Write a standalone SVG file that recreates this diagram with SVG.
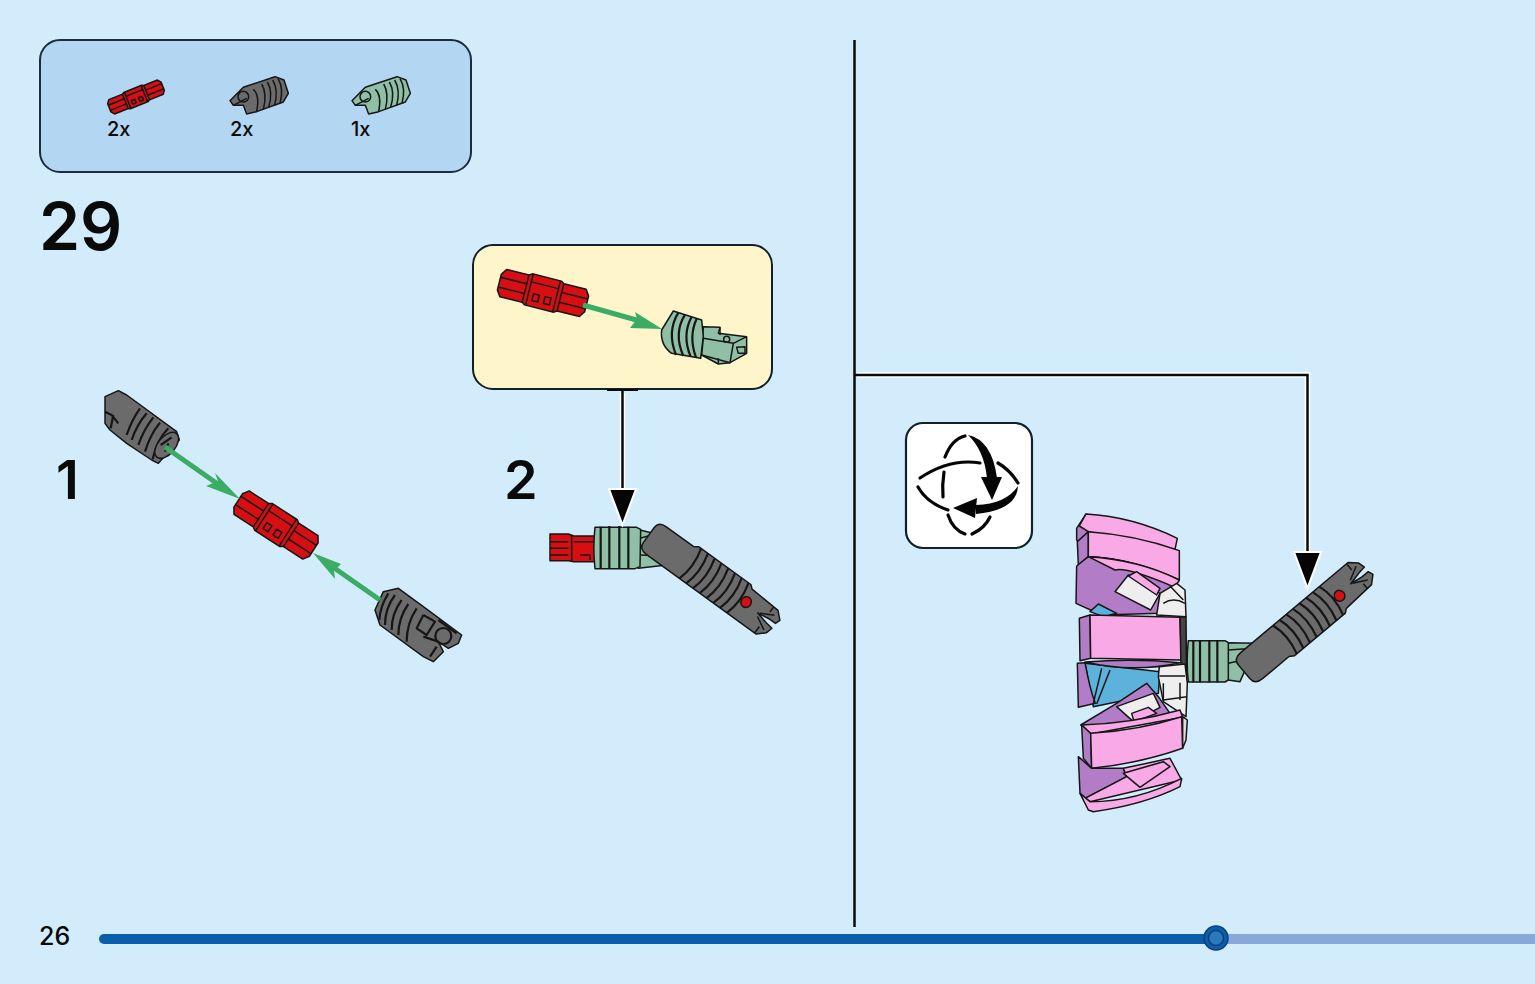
<svg xmlns="http://www.w3.org/2000/svg" width="1535" height="984" viewBox="0 0 1535 984">
<style>
.t{font-family:"Inter","Liberation Sans",sans-serif;fill:#0a0a0a;font-weight:500}
.big{font-weight:600}
.o,.o *{stroke:#161616;stroke-linejoin:round;vector-effect:non-scaling-stroke}
.o{stroke-width:1.5}
.o .th{stroke-width:2.2}
.n{fill:none}
.ln{fill:none;stroke:#0a0a0a;stroke-width:2.5}
.hl{fill:none;stroke:#fff;stroke-width:5.5}
.ga{stroke:#3aac64;stroke-width:5;fill:none}
.gh{fill:#3aac64}
.p{fill:#f9aae6}.pu{fill:#b27dc6}.w{fill:#eeeeee}.b{fill:#5cb2da}
.gr{fill:#6b6b6b}.gn{fill:#8fc0a6}.rd{fill:#d80f12}
</style>
<defs>
<g id="axle" class="o">
<path d="M-45,-8 L-41,-14 L-18,-14 L-15,-16 L15,-16 L18,-14 L41,-14 L45,-8 L45,8 L41,14 L18,14 L15,16 L-15,16 L-18,14 L-41,14 L-45,8 Z" fill="#d80f12"/>
<path class="n" d="M-45,-5 H-18 M-45,5 H-18 M18,-5 H45 M18,5 H45 M-15,-8 H15 M-18,-14 V14 M18,-14 V14 M-14,-16 V16 M14,-16 V16"/>
<rect class="n" x="-9" y="3" width="6" height="7"/><rect class="n" x="3" y="3" width="6" height="7"/>
</g>
<g id="part-conn" class="o" transform="translate(30 30) scale(.33333)">
<path d="M600,212 L640,172 L735,140 L762,150 L775,190 L760,216 L680,245 L650,252 L640,226 L610,226 Z"/>
<path class="n" d="M695,162 Q712,190 700,238 M712,156 Q730,185 716,232 M728,150 Q746,180 734,226 M744,146 Q762,175 750,220"/>
<circle class="n" cx="640" cy="200" r="16"/>
<path class="n" d="M670,178 Q690,195 680,245 M610,226 L650,205"/>
</g>
<g id="long" class="o" fill="#6b6b6b">
<path d="M-84,-9 Q-84,-17 -74,-17 L-38,-17 L-33,-20 L36,-20 L40,-17 L76,-15 L84,-8 L82,-3 L74,-3 L60,-1 L74,2 L82,3 L80,10 L72,17 L-74,17 Q-84,17 -84,9 Z"/>
<path class="n th" d="M-30,-20 Q-24,0 -30,17 M-21,-20 Q-15,0 -21,17 M-12,-20 Q-6,0 -12,17 M-3,-20 Q3,0 -3,17 M6,-20 Q12,0 6,17 M15,-20 Q21,0 15,17 M24,-20 Q30,0 24,17 M33,-20 Q39,0 33,17"/>
<path class="n" d="M62,-2 L76,-9 M62,2 L76,9 M70,-15 V-9 M70,9 V17"/>
<circle cx="43" cy="-3" r="5.5" fill="#d80f12"/>
</g>
</defs>
<rect width="1535" height="984" fill="#d3ecfc"/>

<g id="parts-box">
<rect x="40" y="40" width="431" height="132" rx="20" fill="#b3d6f3" stroke="#1d2c3c" stroke-width="2"/>
<use href="#axle" transform="translate(136 97) rotate(-22) scale(.64 .55)"/>
<use href="#part-conn" fill="#6b6b6b"/>
<use href="#part-conn" fill="#8fc0a6" transform="translate(122 0)"/>
<text class="t" x="107" y="136" font-size="20">2x</text>
<text class="t" x="230" y="136" font-size="20">2x</text>
<text class="t" x="351" y="136" font-size="20">1x</text>
</g>
<text id="step-number" class="t big" x="39" y="250" font-size="66">29</text>
<text id="sub-1" class="t big" x="56" y="499" font-size="54">1</text>
<text id="sub-2" class="t big" x="504" y="499" font-size="54">2</text>
<text id="page" class="t" x="39" y="945" font-size="25">26</text>

<g id="step1-a">
<g transform="translate(90 380) scale(.33333)" class="o">
<path class="gr" d="M45,50 L85,32 L110,45 L260,155 L268,180 L205,250 L185,240 L110,190 L60,150 L45,130 Z"/>
<path class="n th" d="M150,85 Q125,120 110,165 M170,100 Q140,135 125,180 M190,112 Q160,150 145,195 M210,128 Q180,165 165,215 M235,145 Q200,180 188,238"/>
<ellipse class="gr" cx="230" cy="196" rx="26" ry="46" transform="rotate(40 230 196)"/>
<path class="n th" d="M212,195 L245,172 M225,215 L235,190 M45,95 L65,105 L85,130 M70,105 L62,145"/>
</g>
</g>
<g id="step1-b"><use href="#axle" transform="translate(276 525) rotate(33)"/></g>
<g id="step1-c">
<g transform="translate(90 380) scale(.33333)" class="o">
<path class="gr" d="M855,690 L880,635 L925,625 L1000,680 L1115,765 L1105,790 L1075,805 L1045,785 L1060,815 L1030,845 L1000,830 L870,735 Z"/>
<path class="n th" d="M895,640 Q870,680 868,720 M915,645 Q885,685 885,735 M935,660 Q905,700 905,750 M955,672 Q925,715 925,765 M980,685 Q950,730 950,785"/>
<circle class="n th" cx="1060" cy="768" r="24"/>
<path class="n th" d="M1000,705 L980,745 L1010,765 L1035,725 L1000,705 M1045,720 L1100,760 M1000,770 L1045,785 M1020,830 L1040,800"/>
</g>
</g>

<g id="callout">
<rect x="473" y="245" width="299" height="144" rx="20" fill="#fef5cb" stroke="#12202c" stroke-width="2"/>
<use href="#axle" transform="translate(543 293) rotate(14)"/>
<g transform="translate(470 240) scale(.33333)" class="o">
<path class="gn" d="M700,260 L750,262 L745,280 L830,290 L830,340 L780,368 L745,372 L695,345 Z"/>
<path class="gn" d="M610,213 L695,240 L700,290 L692,355 L605,340 Q570,315 575,270 Z"/>
<path class="n th" d="M625,218 Q590,275 618,345 M645,224 Q610,280 640,348 M665,230 Q635,285 662,350 M680,236 Q655,290 678,352"/>
<path class="gn" d="M700,295 L790,310 L780,368 L695,345 Z"/>
<path class="n" d="M790,310 L830,290 M800,322 L825,320 V340 L805,340 Z M750,262 V285 M745,355 V372"/>
<circle class="n" cx="770" cy="298" r="9"/>
</g>
</g>

<g id="step2">
<g transform="translate(470 240) scale(.33333)" class="o">
<path class="rd" d="M240,882 H295 L312,888 H375 L375,965 H312 L295,962 H240 Z"/>
<path class="n" d="M240,905 H295 M240,925 H295 M240,945 H295 M312,905 H375 M330,945 H360 V960 M305,888 V962"/>
<path class="gn" d="M500,868 L550,880 L590,950 L590,975 L505,985 Z"/>
<path class="gn" d="M375,862 L500,862 L512,868 L510,980 L495,986 H375 Q368,925 375,862 Z"/>
<path class="n th" d="M392,860 V985 M418,858 V986 M448,858 V986 M475,860 V986"/>
<path class="n" d="M510,895 L545,885 M510,918 L545,910 M510,945 L590,948"/>
</g>
<use href="#long" transform="translate(712 581) rotate(36) scale(.93 1)"/>
</g>

<g id="rotate-icon">
<rect x="906" y="423" width="126" height="125" rx="17" fill="#fff" stroke="#12202c" stroke-width="2.2"/>
<g fill="none" stroke="#050505" stroke-linecap="round" stroke-width="3.2">
<path d="M945,457 Q952,439 965,436"/>
<path d="M944,472 Q942,485 943,497"/>
<path d="M948,515 Q953,530 965,534"/>
<path d="M972,534 Q985,528 990,517"/>
<path d="M980,463 Q950,458 920,478"/>
<path d="M918,487 Q927,503 948,510"/>
<path d="M998,463 Q1010,470 1018,483"/>
</g>
<path d="M968,435 Q992,440 997,478 L987,478 Q984,450 968,435 Z" fill="#050505"/>
<path d="M1018,486 Q1017,510 976,514 L976,505 Q1006,504 1018,486 Z" fill="#050505"/>
<polygon points="981,477 1002,477 992,500" fill="#050505"/>
<polygon points="953,508 977,498 975,518" fill="#050505"/>
</g>

<g id="final-model">
<g transform="translate(1060 500) scale(.33333)" class="o">
<path class="pu" d="M50,85 L78,42 L85,95 L60,130 L50,120 Z"/>
<path class="p" d="M78,42 Q220,50 352,115 L345,148 L85,95 L58,78 Z"/>
<path class="pu" d="M52,125 L85,95 L85,170 L55,195 Z"/>
<path class="p" d="M85,95 Q230,105 358,152 L358,240 Q220,175 85,170 Z"/>
<path class="pu" d="M50,198 L85,170 Q200,175 260,210 L345,255 L300,340 L125,345 L48,310 Z"/>
<path class="p" d="M85,170 Q240,180 358,240 L345,262 Q200,200 165,210 Z"/>
<path class="b" d="M90,335 L115,312 L170,340 L130,350 Z"/>
<path class="w" d="M300,280 L350,250 L375,270 L378,350 L290,345 Z"/>
<path class="n" d="M310,310 Q340,290 375,310 M330,258 L370,300"/>
<path class="w" d="M165,275 L205,225 L300,280 L272,330 Z"/>
<path class="p" d="M205,228 L230,215 L300,265 L290,285 Z"/>
<path class="pu" d="M58,355 L90,345 L92,475 L60,482 Z"/>
<path class="p" d="M90,345 L360,352 L364,480 L92,475 Z"/>
<path d="M360,352 L378,350 L380,550 L364,550 Z" fill="#444"/>
<path class="b" d="M75,490 L300,515 L295,580 L100,620 Z"/>
<path class="pu" d="M52,490 L75,488 Q90,570 106,610 L55,622 Z"/>
<path class="n" d="M125,505 L100,610 M150,510 L110,612"/>
<path class="pu" d="M75,486 Q220,475 360,488 Q220,520 75,486 Z"/>
<path class="w" d="M298,500 L375,492 L382,550 L378,650 L310,605 L295,530 Z"/>
<path class="n" d="M298,528 H375 M310,550 V605 M360,548 V600 M310,600 L380,590"/>
<path class="pu" d="M62,675 L170,610 L260,550 L295,590 L330,640 L92,700 Z"/>
<path class="w" d="M170,620 L280,580 L300,622 L220,665 Z"/>
<path class="p" d="M215,640 L265,622 L290,640 L222,665 Z"/>
<path class="p" d="M65,675 Q220,670 360,630 L368,652 L92,702 Z"/>
<path class="pu" d="M65,675 L92,700 L95,805 L70,775 Z"/>
<path class="p" d="M92,700 Q240,690 365,650 L368,745 Q240,790 95,805 Z"/>
<path d="M368,650 L382,660 L378,720 L368,745 Z" fill="#ddd"/>
<path class="pu" d="M55,770 L95,805 L190,805 L200,830 L75,895 L60,880 Z"/>
<path class="p" d="M190,805 L330,775 L365,840 L90,905 L75,895 L200,830 Z"/>
<path class="p" d="M190,820 L310,785 L330,800 L240,862 Z"/>
<path class="p" d="M60,880 L90,905 Q230,905 365,835 L360,860 Q250,915 100,935 L85,930 Z"/>
</g>
<g transform="translate(1060 500) scale(.33333)" class="o">
<path class="gn" d="M500,428 L590,430 L560,500 L540,545 L505,540 Z"/>
<path class="gn" d="M385,422 L495,422 L505,428 L505,540 L495,546 H385 Q378,485 385,422 Z"/>
<path class="n th" d="M400,420 V547 M420,420 V547 M448,420 V547 M472,420 V547"/>
<path class="n" d="M505,450 L580,445 M505,490 L550,480"/>
</g>
<use href="#long" transform="translate(1306 620) rotate(-40) scale(.96 -1)"/>
</g>

<g id="connectors">
<path class="ga" d="M165,447 L222,487"/>
<polygon class="gh" points="240,499 206,486 218,481 215,473"/>
<path class="ga" d="M380,600 L330,565"/>
<polygon class="gh" points="313,553 341,564 334,571 335,579"/>
<path class="ga" d="M583,305 L640,321"/>
<polygon class="gh" points="662,329 630,328 637,319 635,312"/>
<path d="M607,390 H638" stroke="#0a0a0a" stroke-width="2"/>
<path class="hl" d="M622.5,393 V495"/>
<path class="ln" d="M622.5,389 V495"/>
<polygon points="609,489 636,489 622.5,525" fill="#050505" stroke="#fff" stroke-width="2"/>
<path class="hl" d="M857,375 H1307.5 V555"/>
<path class="ln" d="M854.5,375 H1307.5 V555"/>
<polygon points="1294,552 1321,552 1307.5,588" fill="#050505" stroke="#fff" stroke-width="2"/>
<path d="M854.5,40 V927" stroke="#0a0a0a" stroke-width="2.5"/>
</g>

<g id="progress">
<path d="M1216,939 H1535" stroke="#88a8dc" stroke-width="10"/>
<path d="M104,939 H1216" stroke="#0a5fad" stroke-width="10" stroke-linecap="round"/>
<circle cx="1216" cy="938" r="12" fill="#0a5fad" stroke="#0c3f73" stroke-width="1.5"/>
<circle cx="1216" cy="938" r="7.5" fill="#2c79c0" stroke="#0c3f73" stroke-width="1.5"/>
</g>
</svg>
